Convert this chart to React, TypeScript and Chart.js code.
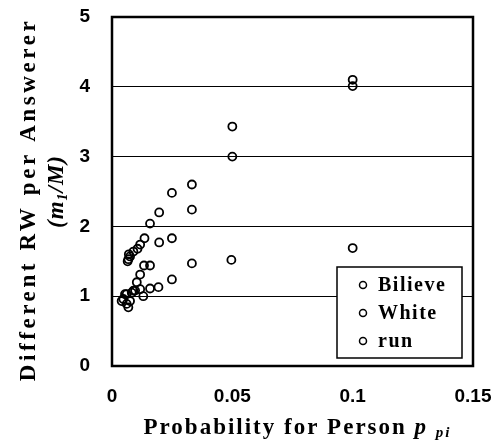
import React, { useEffect, useRef } from "react";
import { Chart, registerables } from "chart.js";

Chart.register(...registerables);

const seriesNames = ["Bilieve", "White", "run"];

const bilieveP = [0.1, 0.05, 0.0332, 0.0249, 0.0196, 0.0158, 0.0135, 0.0117, 0.0106, 0.0089, 0.0075, 0.0068, 0.0065, 0.007];
const bilieveV = [4.1, 3.43, 2.6, 2.48, 2.2, 2.04, 1.83, 1.74, 1.68, 1.64, 1.57, 1.53, 1.5, 1.6];

const whiteP = [0.1, 0.05, 0.0332, 0.0249, 0.0196, 0.0158, 0.0133, 0.0117, 0.0103, 0.0089, 0.0082, 0.0061, 0.0054, 0.0047];
const whiteV = [4.01, 3.0, 2.24, 1.83, 1.77, 1.44, 1.44, 1.31, 1.2, 1.08, 1.05, 1.03, 1.03, 0.96];

const runP = [0.1, 0.0496, 0.0332, 0.0249, 0.0193, 0.0158, 0.013, 0.0117, 0.0096, 0.0075, 0.0068, 0.0061, 0.004];
const runV = [1.69, 1.52, 1.47, 1.24, 1.13, 1.11, 1.0, 1.1, 1.08, 0.93, 0.84, 0.89, 0.93];

const xTicks = [0, 0.05, 0.1, 0.15];
const yTicks = [0, 1, 2, 3, 4, 5];

const xTitleMain = "Probability for Person ";
const xTitleVar = "p";
const xTitleSub = "pi";
const yTitleLine1 = "Different RW per Answerer";
const yTitleLine2 = ["(m", "1", "/M)"];

const SERIF = '"Liberation Serif", "Times New Roman", serif';
const SANS = '"Liberation Sans", Arial, sans-serif';

function toPoints(xs: number[], ys: number[]) {
  return xs.map((x, i) => ({ x, y: ys[i] }));
}

const annotPlugin = {
  id: "annot",
  afterDraw(chart: any) {
    const ctx: CanvasRenderingContext2D = chart.ctx;
    const a = chart.chartArea;
    ctx.save();
    // frame
    ctx.strokeStyle = "#000";
    ctx.lineWidth = 2.5;
    ctx.strokeRect(a.left, a.top, a.right - a.left, a.bottom - a.top);

    // legend
    const lx = a.left + 225;
    const ly = a.top + 250;
    const lw = 125;
    const lh = 91;
    ctx.fillStyle = "#fff";
    ctx.fillRect(lx, ly, lw, lh);
    ctx.lineWidth = 1.5;
    ctx.strokeRect(lx, ly, lw, lh);
    ctx.fillStyle = "#000";
    ctx.font = `bold 20px ${SERIF}`;
    (ctx as any).letterSpacing = "1.5px";
    ctx.textAlign = "left";
    ctx.textBaseline = "middle";
    chart.data.datasets.forEach((ds: any, i: number) => {
      const cy = ly + 18 + i * 28;
      ctx.beginPath();
      ctx.arc(lx + 26, cy, 3.5, 0, Math.PI * 2);
      ctx.lineWidth = 1.5;
      ctx.stroke();
      ctx.fillText(ds.label, lx + 41, cy + 1);
    });

    // x title
    ctx.textBaseline = "alphabetic";
    (ctx as any).letterSpacing = "2px";
    const fMain = `bold 23px ${SERIF}`;
    const fVar = `italic bold 23px ${SERIF}`;
    const fSub = `italic bold 15px ${SERIF}`;
    ctx.font = fMain;
    const w1 = ctx.measureText(xTitleMain).width;
    ctx.font = fVar;
    const w2 = ctx.measureText(xTitleVar + " ").width;
    ctx.font = fSub;
    const w3 = ctx.measureText(xTitleSub).width;
    const total = w1 + w2 + w3;
    let sx = (a.left + a.right) / 2 + 5 - total / 2;
    const by = 434;
    ctx.font = fMain;
    ctx.fillText(xTitleMain, sx, by);
    sx += w1;
    ctx.font = fVar;
    ctx.fillText(xTitleVar + " ", sx, by);
    sx += w2;
    ctx.font = fSub;
    ctx.fillText(xTitleSub, sx, by + 3);

    // y title line 1
    const cy = (a.top + a.bottom) / 2 + 8;
    ctx.save();
    ctx.translate(35, cy);
    ctx.rotate(-Math.PI / 2);
    ctx.textAlign = "center";
    ctx.font = `bold 23px ${SERIF}`;
    (ctx as any).letterSpacing = "3.6px";
    ctx.fillText(yTitleLine1, 0, 0);
    ctx.restore();

    // y title line 2
    ctx.save();
    ctx.translate(63, (a.top + a.bottom) / 2);
    ctx.rotate(-Math.PI / 2);
    ctx.textAlign = "left";
    (ctx as any).letterSpacing = "1px";
    const fonts = [`italic bold 23px ${SERIF}`, `italic bold 14px ${SERIF}`, `italic bold 23px ${SERIF}`];
    const offs = [0, 4, 0];
    const widths = yTitleLine2.map((t, i) => {
      ctx.font = fonts[i];
      return ctx.measureText(t).width;
    });
    let px = -widths.reduce((s, w) => s + w, 0) / 2;
    yTitleLine2.forEach((t, i) => {
      ctx.font = fonts[i];
      ctx.fillText(t, px, offs[i]);
      px += widths[i];
    });
    ctx.restore();

    (ctx as any).letterSpacing = "0px";
    ctx.restore();
  },
};

function zeroPad(scale: any) {
  scale.paddingTop = 0;
  scale.paddingBottom = 0;
  scale.paddingLeft = 0;
  scale.paddingRight = 0;
}

export default function App() {
  const canvasRef = useRef<HTMLCanvasElement | null>(null);

  useEffect(() => {
    document.body.style.margin = "0";
    const canvas = canvasRef.current;
    if (!canvas) return;
    const pointStyle = {
      pointStyle: "circle",
      pointRadius: 4,
      pointHoverRadius: 4,
      borderWidth: 1.8,
      borderColor: "#000",
      backgroundColor: "rgba(0,0,0,0)",
      showLine: false,
    };
    const chart = new Chart(canvas, {
      type: "scatter",
      data: {
        datasets: [
          { label: seriesNames[0], data: toPoints(bilieveP, bilieveV), ...pointStyle },
          { label: seriesNames[1], data: toPoints(whiteP, whiteV), ...pointStyle },
          { label: seriesNames[2], data: toPoints(runP, runV), ...pointStyle },
        ] as any,
      },
      options: {
        animation: false,
        responsive: true,
        maintainAspectRatio: false,
        layout: { padding: { left: 72, top: 17, right: 20, bottom: 35 } },
        plugins: {
          legend: { display: false },
          tooltip: { enabled: false },
          title: { display: false },
        },
        scales: {
          x: {
            type: "linear",
            min: xTicks[0],
            max: xTicks[xTicks.length - 1],
            afterBuildTicks: (scale: any) => {
              scale.ticks = xTicks.map((v) => ({ value: v }));
            },
            afterFit: (scale: any) => {
              scale.height = 40;
              zeroPad(scale);
            },
            ticks: {
              padding: 19,
              color: "#000",
              font: { family: SANS, weight: "bold", size: 19 },
              callback: (v: any) => String(parseFloat(Number(v).toFixed(2))),
              maxRotation: 0,
            },
            grid: { display: false, drawTicks: false },
            border: { display: false },
          },
          y: {
            type: "linear",
            min: yTicks[0],
            max: yTicks[yTicks.length - 1],
            afterBuildTicks: (scale: any) => {
              scale.ticks = yTicks.map((v) => ({ value: v }));
            },
            afterFit: (scale: any) => {
              scale.width = 40;
              zeroPad(scale);
            },
            ticks: {
              padding: 22,
              color: "#000",
              font: { family: SANS, weight: "bold", size: 19 },
            },
            grid: { color: "#000", lineWidth: 1, drawTicks: false },
            border: { display: false },
          },
        },
      } as any,
      plugins: [annotPlugin],
    });
    return () => chart.destroy();
  }, []);

  return (
    <div style={{ width: 493, height: 441, position: "relative" }}>
      <canvas ref={canvasRef} />
    </div>
  );
}
